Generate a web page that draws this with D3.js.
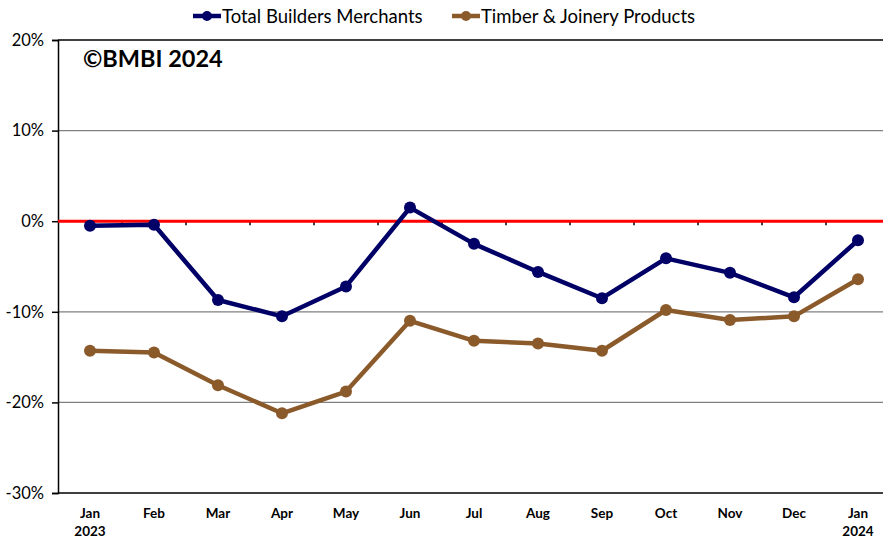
<!DOCTYPE html>
<html>
<head>
<meta charset="utf-8">
<script src="https://cdn.jsdelivr.net/npm/d3@7"></script>
<style>
  body { margin: 0; background: #fff; }
  svg { font-family: Lato, "Open Sans", sans-serif; }
</style>
</head>
<body>
<div id="chart"></div>
<script>
// data
const months = ['Jan', 'Feb', 'Mar', 'Apr', 'May', 'Jun', 'Jul', 'Aug', 'Sep', 'Oct', 'Nov', 'Dec', 'Jan2'];
const monthLabels = ['Jan', 'Feb', 'Mar', 'Apr', 'May', 'Jun', 'Jul', 'Aug', 'Sep', 'Oct', 'Nov', 'Dec', 'Jan'];
const yearLabels = ['2023', '', '', '', '', '', '', '', '', '', '', '', '2024'];
const totalBM = [-0.5, -0.4, -8.7, -10.5, -7.2, 1.5, -2.5, -5.6, -8.5, -4.1, -5.7, -8.4, -2.1];
const timber = [-14.3, -14.5, -18.1, -21.2, -18.8, -11.0, -13.2, -13.5, -14.3, -9.8, -10.9, -10.5, -6.4];
const yTicks = [20, 10, 0, -10, -20, -30];

const series = [
    { name: 'Total Builders Merchants', values: totalBM, color: '#000066' },
    { name: 'Timber & Joinery Products', values: timber, color: '#8b5a2b' }
];

const W = 883, H = 538;
const mLeft = 58, mTop = 40, mBottom = 493;
const step = 64;

const svg = d3.select('#chart').append('svg')
    .attr('width', W)
    .attr('height', H);

const x = d3.scaleBand()
    .domain(months)
    .range([mLeft, mLeft + step * months.length]);

const y = d3.scaleLinear()
    .domain([-30, 20])
    .range([mBottom, mTop]);

const cx = i => x(months[i]) + x.bandwidth() / 2;

// gridlines
svg.append('g')
    .selectAll('line')
    .data(yTicks)
    .enter()
    .append('line')
    .attr('x1', mLeft)
    .attr('x2', W)
    .attr('y1', d => y(d))
    .attr('y2', d => y(d))
    .attr('stroke', d => (d === 20 || d === -30) ? '#000' : '#808080')
    .attr('stroke-width', d => (d === 20 || d === -30) ? 1.5 : 1.3);

// y axis
const yAxis = svg.append('g')
    .attr('transform', `translate(${mLeft},0)`)
    .call(d3.axisLeft(y).tickValues(yTicks).tickSize(6).tickFormat(d => d + '%'));
yAxis.select('.domain').attr('stroke', '#000').attr('stroke-width', 1.5);
yAxis.selectAll('.tick line').attr('stroke', '#000').attr('stroke-width', 1.5);
yAxis.selectAll('.tick text')
    .attr('font-size', 16.5)
    .attr('font-family', 'Lato, sans-serif')
    .attr('fill', '#000')
    .attr('x', -14);

// small category ticks on the zero line
svg.append('g')
    .selectAll('line')
    .data(months.slice(1))
    .enter()
    .append('line')
    .attr('x1', d => x(d))
    .attr('x2', d => x(d))
    .attr('y1', y(0))
    .attr('y2', y(0) + 4)
    .attr('stroke', '#000')
    .attr('stroke-width', 1.5);

// zero line
svg.append('line')
    .attr('x1', mLeft)
    .attr('x2', W)
    .attr('y1', y(0))
    .attr('y2', y(0))
    .attr('stroke', '#ff0000')
    .attr('stroke-width', 3);

// x labels
const xl = svg.append('g')
    .selectAll('text')
    .data(months)
    .enter()
    .append('text')
    .attr('x', (d, i) => cx(i))
    .attr('y', 518)
    .attr('text-anchor', 'middle')
    .attr('font-size', 13.5)
    .attr('font-weight', 'bold');
xl.append('tspan').text((d, i) => monthLabels[i]);
xl.append('tspan')
    .attr('x', (d, i) => cx(i))
    .attr('dy', 18)
    .text((d, i) => yearLabels[i]);

// lines and markers
const line = d3.line()
    .x((d, i) => cx(i))
    .y(d => y(d));

series.forEach(s => {
    svg.append('path')
        .datum(s.values)
        .attr('d', line)
        .attr('fill', 'none')
        .attr('stroke', s.color)
        .attr('stroke-width', 4.5)
        .attr('stroke-linejoin', 'round');
    svg.append('g')
        .selectAll('circle')
        .data(s.values)
        .enter()
        .append('circle')
        .attr('cx', (d, i) => cx(i))
        .attr('cy', d => y(d))
        .attr('r', 6)
        .attr('fill', s.color);
});

// copyright
svg.append('text')
    .attr('x', 83)
    .attr('y', 67)
    .attr('font-size', 23.5)
    .attr('font-weight', 'bold')
    .text('\u00a9BMBI 2024');

// legend
const legend = svg.append('g');
const legendX = [193, 452];
series.forEach((s, i) => {
    const g = legend.append('g').attr('transform', `translate(${legendX[i]},16)`);
    g.append('line')
        .attr('x1', 0).attr('x2', 28)
        .attr('stroke', s.color).attr('stroke-width', 4.5);
    g.append('circle').attr('cx', 14).attr('r', 5).attr('fill', s.color);
    g.append('text')
        .attr('x', 29)
        .attr('y', 6.5)
        .attr('font-size', 18.5)
        .text(s.name);
});
</script>
</body>
</html>
